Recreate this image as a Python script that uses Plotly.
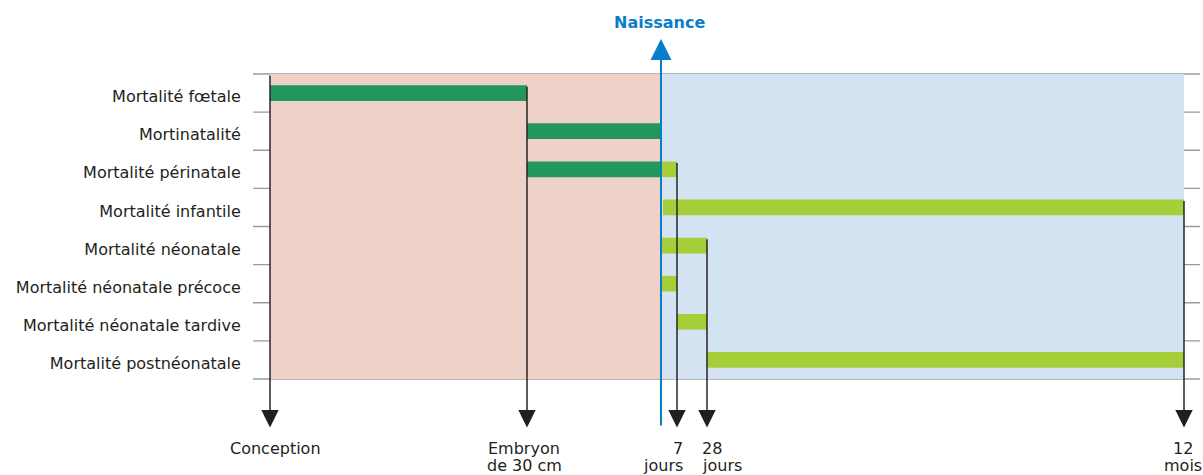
import plotly.graph_objects as go

# ---------------- data ----------------
categories = [
    "Mortalité fœtale",
    "Mortinatalité",
    "Mortalité périnatale",
    "Mortalité infantile",
    "Mortalité néonatale",
    "Mortalité néonatale précoce",
    "Mortalité néonatale tardive",
    "Mortalité postnéonatale",
]

# schematic timeline positions (arbitrary units, not to scale)
milestone_names = ["Conception", "Embryon de 30 cm", "Naissance", "7 jours", "28 jours", "12 mois"]
milestone_pos = [0, 257, 391, 407, 437, 914]

# prenatal segments (dark green): start, end per category (None = no segment)
prenatal_start = [0, 257, 257, None, None, None, None, None]
prenatal_end = [257, 391, 391, None, None, None, None, None]

# postnatal segments (light green)
postnatal_start = [None, None, 391, 393, 391, 391, 407, 437]
postnatal_end = [None, None, 407, 914, 437, 407, 437, 914]

# bottom labels (two lines each)
bottom_line1 = ["Conception", "Embryon", "7", "28", "12"]
bottom_line2 = ["", "de 30 cm", "jours", "jours", "mois"]
bottom_at = [0, 257, 407, 437, 914]

# ---------------- styling ----------------
FONT = "DejaVu Sans"
TXT = "#231f20"
DARK_GREEN = "#22965e"
LIGHT_GREEN = "#a6ce39"
PINK = "#eed2c7"
BLUE_BG = "#d3e3f2"
BLUE = "#0a7dc8"
GRID = "#9b9b9b"

W, H = 1203, 475
PLOT_L, PLOT_R = 253, 1200
ROW_TOP, ROW_H = 74, 38.125
X0_PX = 270  # pixel of position 0
LABEL_DY = 3.5 / ROW_H  # labels sit slightly below row centre


def row_of(px):
    return (px - ROW_TOP) / ROW_H - 0.5


fig = go.Figure()

n = len(categories)
rows = list(range(n))

# prenatal bars
pr_y, pr_base, pr_len = [], [], []
for i in rows:
    if prenatal_start[i] is not None:
        pr_y.append(i)
        pr_base.append(prenatal_start[i])
        pr_len.append(prenatal_end[i] - prenatal_start[i])
fig.add_trace(go.Bar(
    y=pr_y, x=pr_len, base=pr_base, orientation="h",
    marker=dict(color=DARK_GREEN, line=dict(width=0)),
    width=0.41, showlegend=False, hoverinfo="skip",
))

po_y, po_base, po_len = [], [], []
for i in rows:
    if postnatal_start[i] is not None:
        po_y.append(i)
        po_base.append(postnatal_start[i])
        po_len.append(postnatal_end[i] - postnatal_start[i])
fig.add_trace(go.Bar(
    y=po_y, x=po_len, base=po_base, orientation="h",
    marker=dict(color=LIGHT_GREEN, line=dict(width=0)),
    width=0.41, showlegend=False, hoverinfo="skip",
))

shapes = []
birth = milestone_pos[2]
# backgrounds
shapes.append(dict(type="rect", xref="x", yref="y", x0=milestone_pos[0], x1=birth,
                   y0=-0.5, y1=n - 0.5, fillcolor=PINK, line=dict(width=0), layer="below"))
shapes.append(dict(type="rect", xref="x", yref="y", x0=birth, x1=milestone_pos[5],
                   y0=-0.5, y1=n - 0.5, fillcolor=BLUE_BG, line=dict(width=0), layer="below"))
# row separators
for k in range(n + 1):
    shapes.append(dict(type="line", xref="paper", yref="y", x0=0, x1=1,
                       y0=k - 0.5, y1=k - 0.5, line=dict(color=GRID, width=1.3), layer="below"))

annotations = []
bar_half = 0.205
# black arrows: (x, top row)
arrow_tops = [
    (milestone_pos[0], -0.5),
    (milestone_pos[1], 0 - bar_half),
    (milestone_pos[3], 2 - bar_half),
    (milestone_pos[4], 4 - bar_half),
    (milestone_pos[5], 3 - bar_half),
]
tip_row = row_of(427.5)
for xpos, top in arrow_tops:
    annotations.append(dict(
        x=xpos, y=tip_row, ax=xpos, ay=top, xref="x", yref="y", axref="x", ayref="y",
        text="", showarrow=True, arrowhead=2, arrowsize=2.4, arrowwidth=1.45,
        arrowcolor=TXT, standoff=0, startstandoff=0,
    ))

# birth arrow (blue, upward)
annotations.append(dict(
    x=birth, y=row_of(39), ax=birth, ay=row_of(427), xref="x", yref="y", axref="x", ayref="y",
    text="", showarrow=True, arrowhead=2, arrowsize=2.1, arrowwidth=2,
    arrowcolor=BLUE, standoff=0, startstandoff=0,
))
annotations.append(dict(
    x=birth, y=row_of(22), xref="x", yref="y", text="<b>Naissance</b>", showarrow=False,
    font=dict(family=FONT, size=16, color=BLUE), xanchor="center", yanchor="middle", xshift=-2,
))

# bottom labels
anchors = ["center", "center", "right", "left", "center"]
shifts = [5, -3, 8, -7, -1]
for j in range(len(bottom_line1)):
    for txt, ypx in ((bottom_line1[j], 448), (bottom_line2[j], 465)):
        if not txt:
            continue
        annotations.append(dict(
            x=bottom_at[j], y=row_of(ypx), xref="x", yref="y", text=txt, showarrow=False,
            font=dict(family=FONT, size=16, color=TXT), xanchor=anchors[j], yanchor="middle",
            xshift=shifts[j],
        ))

fig.update_layout(
    width=W, height=H,
    margin=dict(l=PLOT_L, r=W - PLOT_R, t=0, b=0, pad=0),
    paper_bgcolor="white", plot_bgcolor="white",
    barmode="overlay",
    shapes=shapes, annotations=annotations,
    font=dict(family=FONT, size=16, color=TXT),
    xaxis=dict(range=[PLOT_L - X0_PX, PLOT_R - X0_PX], showgrid=False, zeroline=False,
               showticklabels=False, ticks="", showline=False, fixedrange=True),
    yaxis=dict(range=[row_of(H), row_of(0)], showgrid=False, zeroline=False, showline=False,
               tickvals=[r + LABEL_DY for r in rows], ticktext=categories,
               ticks="outside", ticklen=8,
               tickcolor="rgba(0,0,0,0)", tickfont=dict(family=FONT, size=16, color=TXT),
               fixedrange=True),
    showlegend=False,
)

fig.write_html("out.html", config={"displayModeBar": False},
               post_script="document.body.style.margin='0px';document.body.style.overflow='hidden';")
